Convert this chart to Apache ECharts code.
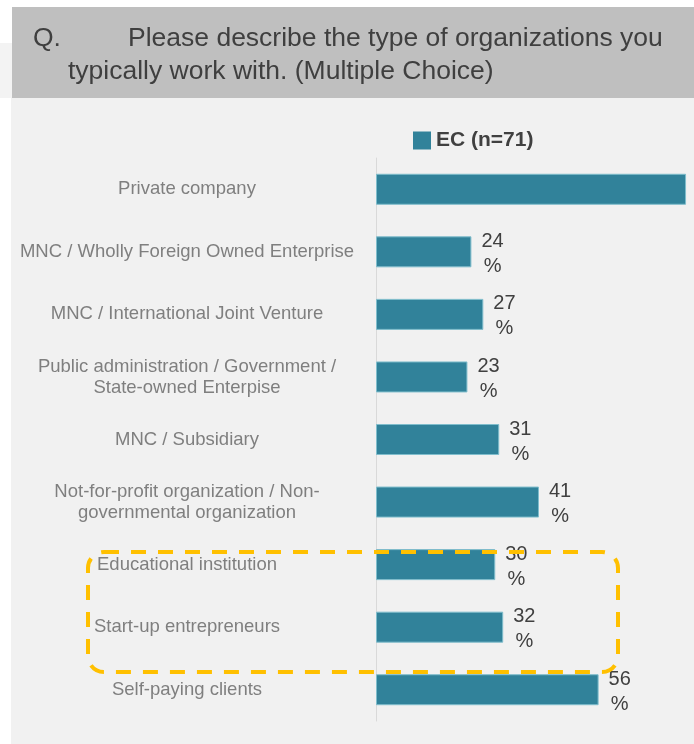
<!DOCTYPE html>
<html>
<head>
<meta charset="utf-8">
<script src="https://cdn.jsdelivr.net/npm/echarts@6/dist/echarts.min.js"></script>
<style>
  html, body { margin: 0; padding: 0; background: #ffffff; }
  #chart { width: 694px; height: 744px; }
</style>
</head>
<body>
<div id="chart"></div>
<script>
// Organization types, listed top to bottom
const categories = [
  'Private company',
  'MNC / Wholly Foreign Owned Enterprise',
  'MNC / International Joint Venture',
  'Public administration / Government /\nState-owned Enterpise',
  'MNC / Subsidiary',
  'Not-for-profit organization / Non-\ngovernmental organization',
  'Educational institution',
  'Start-up entrepreneurs',
  'Self-paying clients'
];

// Share of respondents (%)
const ecValues = [78, 24, 27, 23, 31, 41, 30, 32, 56];

const seriesName = 'EC (n=71)';
const titleLead = 'Q.';
const titleLine1 = 'Please describe the type of organizations you';
const titleLine2 = 'typically work with. (Multiple Choice)';

const FONT = "'Liberation Sans', Arial, sans-serif";

const chart = echarts.init(document.getElementById('chart'), null, { renderer: 'canvas' });

chart.setOption({
  backgroundColor: '#ffffff',
  animation: false,
  textStyle: { fontFamily: FONT },
  graphic: [
    { type: 'rect', z: -10, shape: { x: 0, y: 43, width: 12, height: 55 }, style: { fill: '#f3f3f3' } },
    { type: 'rect', z: -10, shape: { x: 11, y: 97, width: 683, height: 647 }, style: { fill: '#f1f1f1' } },
    { type: 'rect', z: -9, shape: { x: 12, y: 7, width: 682, height: 91 }, style: { fill: '#bfbfbf' } },
    { type: 'text', z: 10, x: 33, y: 39, style: { text: titleLead, font: '26.5px ' + FONT, fill: '#3f3f3f', verticalAlign: 'middle' } },
    { type: 'text', z: 10, x: 128, y: 39, style: { text: titleLine1, font: '26.5px ' + FONT, fill: '#3f3f3f', verticalAlign: 'middle' } },
    { type: 'text', z: 10, x: 68, y: 72, style: { text: titleLine2, font: '26.5px ' + FONT, fill: '#3f3f3f', verticalAlign: 'middle' } },
    // Highlight around the education / start-up rows
    {
      type: 'rect', z: 100,
      shape: { x: 88, y: 552, width: 530, height: 120, r: 16 },
      style: { fill: null, stroke: '#ffc000', lineWidth: 4, lineDash: [15, 12] }
    }
  ],
  legend: {
    data: [seriesName],
    left: 413,
    top: 130,
    padding: 0,
    icon: 'rect',
    itemWidth: 18,
    itemHeight: 18,
    itemGap: 6,
    itemStyle: { borderWidth: 0 },
    textStyle: { fontSize: 21, fontWeight: 'bold', color: '#404040', fontFamily: FONT }
  },
  grid: { left: 376, right: 0, top: 158, bottom: 23, containLabel: false },
  xAxis: {
    type: 'value',
    min: 0,
    max: 80,
    show: false,
    splitLine: { show: false }
  },
  yAxis: {
    type: 'category',
    inverse: true,
    data: categories,
    axisLine: { show: true, lineStyle: { color: '#d9d9d9', width: 1 } },
    axisTick: { show: false },
    axisLabel: {
      align: 'center',
      margin: 189,
      fontSize: 18.5,
      lineHeight: 21,
      color: '#7f7f7f',
      fontFamily: FONT
    }
  },
  series: [{
    name: seriesName,
    type: 'bar',
    barWidth: 31,
    data: ecValues.map((v, i) => i === 0 ? { value: v, label: { show: false } } : v),
    itemStyle: { color: '#31829a', borderColor: '#7fbdcc', borderWidth: 1 },
    label: {
      show: true,
      position: 'right',
      distance: 10,
      offset: [0, 2],
      formatter: p => '{v|' + p.value + '}\n{p|%}',
      rich: {
        v: { fontSize: 20, lineHeight: 25, color: '#404040', align: 'center', fontFamily: FONT },
        p: { fontSize: 20, lineHeight: 25, color: '#404040', align: 'center', fontFamily: FONT }
      }
    }
  }]
});
</script>
</body>
</html>
